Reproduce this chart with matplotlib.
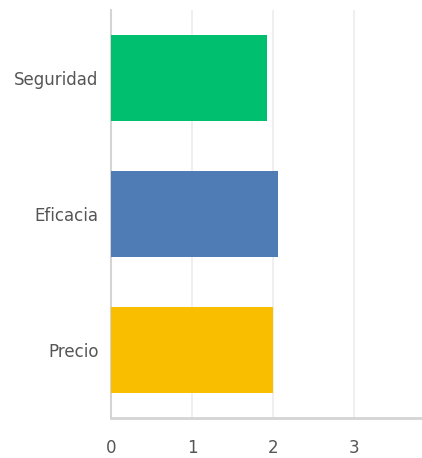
import numpy as np
import matplotlib.pyplot as plt

categories = ['Precio', 'Eficacia', 'Seguridad']
values = [2.00, 2.06, 1.92]
colors = ['#F9BE00', '#507CB6', '#00BF6F']
xticks = [0, 1, 2, 3]

plt.rcParams['font.family'] = ['DejaVu Sans']

fig = plt.figure(figsize=(4.22, 4.58), dpi=100)
ax = fig.add_axes([111 / 422, 40 / 458, 1 - 111 / 422, 408 / 458])

y = np.arange(len(categories))
ax.barh(y, values, height=0.63, color=colors, zorder=3)

ax.set_xlim(0, 3.84)
ax.set_ylim(-0.5, 2.5)
ax.set_yticks(y)
ax.set_yticklabels(categories)
ax.set_xticks(xticks)
ax.set_xticklabels([str(t) for t in xticks])

ax.grid(axis='x', color='#ececec', linewidth=1.2, zorder=0)
ax.tick_params(axis='both', length=0, labelsize=12, labelcolor='#555555')
ax.tick_params(axis='x', pad=15)
ax.tick_params(axis='y', pad=9)

for side in ['top', 'right']:
    ax.spines[side].set_visible(False)
ax.spines['left'].set_color('#d4d4d4')
ax.spines['left'].set_linewidth(1.5)
ax.spines['bottom'].set_color('#d4d4d4')
ax.spines['bottom'].set_linewidth(2)

fig.savefig('out.png', dpi=100)
